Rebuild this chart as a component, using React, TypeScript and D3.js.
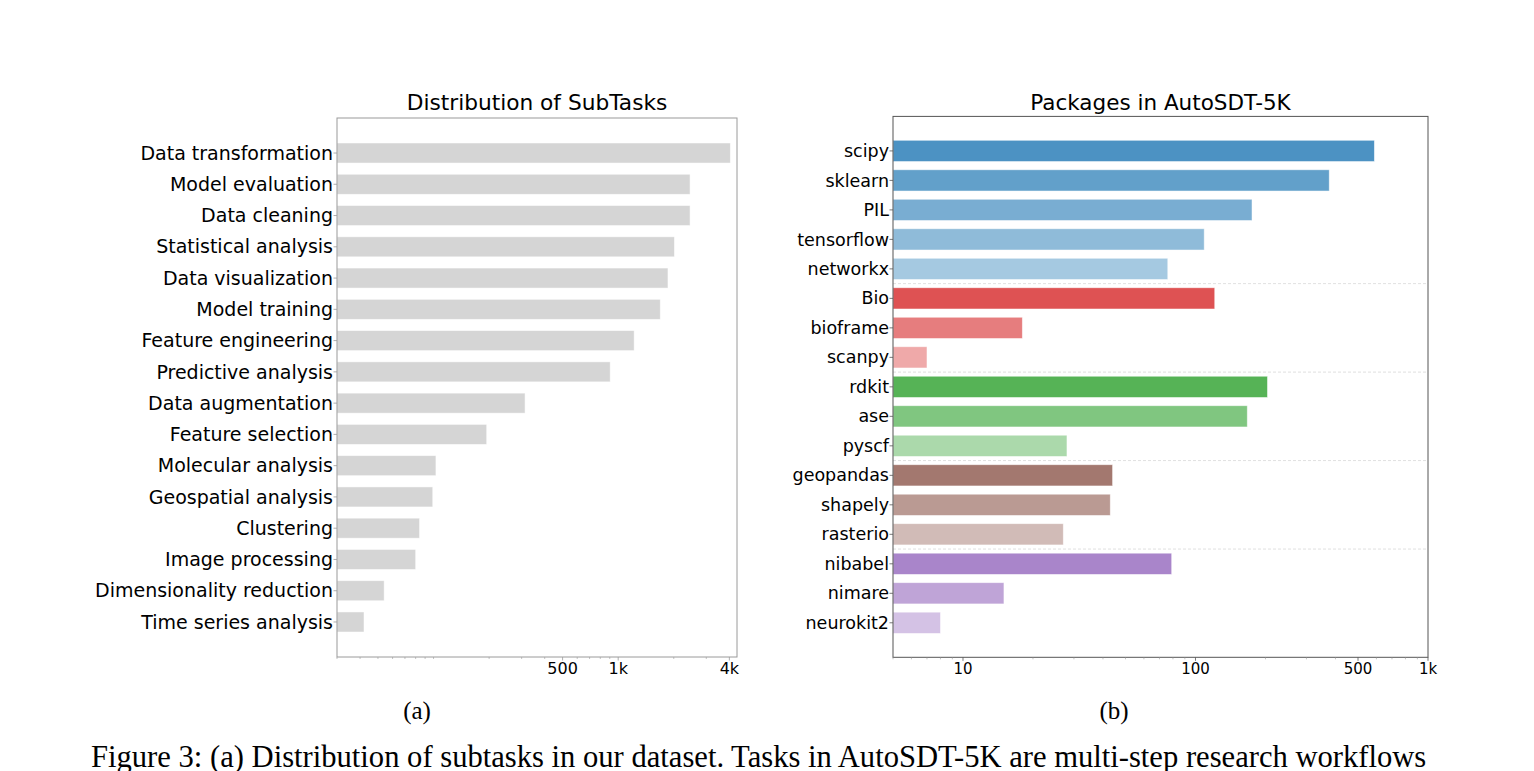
import * as d3 from "d3";

// subtask frequencies (log x axis)
const subtaskNames = [
  "Data transformation",
  "Model evaluation",
  "Data cleaning",
  "Statistical analysis",
  "Data visualization",
  "Model training",
  "Feature engineering",
  "Predictive analysis",
  "Data augmentation",
  "Feature selection",
  "Molecular analysis",
  "Geospatial analysis",
  "Clustering",
  "Image processing",
  "Dimensionality reduction",
  "Time series analysis",
];
const subtaskCounts = [4050, 2450, 2450, 2015, 1860, 1690, 1220, 905, 313, 194, 103, 99, 84, 80, 54, 42];
const subtaskTicks = [500, 1000, 4000];
const subtaskTickLabels = ["500", "1k", "4k"];

// package usage, grouped by domain
const packageNames = [
  "scipy", "sklearn", "PIL", "tensorflow", "networkx",
  "Bio", "bioframe", "scanpy",
  "rdkit", "ase", "pyscf",
  "geopandas", "shapely", "rasterio",
  "nibabel", "nimare", "neurokit2",
];
const packageCounts = [588, 376, 175, 109, 76, 121, 18, 7, 204, 167, 28, 44, 43, 27, 79, 15, 8];
const groupSizes = [5, 3, 3, 3, 3];
const groupColors = ["#1f77b4", "#d62728", "#2ca02c", "#8c564b", "#9467bd"];
const packageTicks = [10, 100, 500, 1000];
const packageTickLabels = ["10", "100", "500", "1k"];

const FONT = "DejaVu Sans, sans-serif";
const SERIF = "Liberation Serif, serif";

function minorTicks(lo: number, hi: number, majors: number[]) {
  const out: number[] = [];
  for (let p = Math.floor(Math.log10(lo)); p <= Math.ceil(Math.log10(hi)); p++) {
    for (let k = 1; k < 10; k++) {
      const v = k * Math.pow(10, p);
      if (v >= lo && v <= hi && !majors.includes(v)) out.push(v);
    }
  }
  return out;
}

function SubtaskPanel() {
  const left = 337, right = 737, top = 118, bottom = 657;
  const domain: [number, number] = [30, 4400];
  const x = d3.scaleLog().domain(domain).range([left, right]);
  const y = d3.scaleLinear().domain([-1.12, subtaskNames.length - 1 + 1.12]).range([top, bottom]);
  const bh = (y(1) - y(0)) * 0.64;
  const spine = "#9a9a9a";
  return (
    <g>
      <text x={(left + right) / 2} y={110} textAnchor="middle" fontFamily={FONT} fontSize={21.7}>
        Distribution of SubTasks
      </text>
      {subtaskNames.map((name, i) => (
        <g key={name}>
          <rect
            x={left}
            y={y(i) - bh / 2}
            width={x(subtaskCounts[i]) - left}
            height={bh}
            fill="#d5d5d5"
            stroke="#ffffff"
            strokeOpacity={0.6}
            strokeWidth={0.8}
          />
          <line x1={left - 3.5} x2={left} y1={y(i)} y2={y(i)} stroke={spine} strokeWidth={0.8} />
          <text x={left - 4} y={y(i)} dy="0.35em" textAnchor="end" fontFamily={FONT} fontSize={19}>
            {name}
          </text>
        </g>
      ))}
      <rect x={left} y={top} width={right - left} height={bottom - top} fill="none" stroke={spine} strokeWidth={1} />
      {minorTicks(domain[0], domain[1], subtaskTicks).map((v) => (
        <line key={v} x1={x(v)} x2={x(v)} y1={bottom} y2={bottom + 2} stroke={spine} strokeWidth={0.6} />
      ))}
      {subtaskTicks.map((v, i) => (
        <g key={v}>
          <line x1={x(v)} x2={x(v)} y1={bottom} y2={bottom + 3.5} stroke={spine} strokeWidth={0.8} />
          <text x={x(v)} y={673.5} textAnchor="middle" fontFamily={FONT} fontSize={16}>
            {subtaskTickLabels[i]}
          </text>
        </g>
      ))}
    </g>
  );
}

function PackagePanel() {
  const left = 893, right = 1428, top = 116.4, bottom = 657.3;
  const domain: [number, number] = [5, 1000];
  const x = d3.scaleLog().domain(domain).range([left, right]);
  const y = d3.scaleLinear().domain([-1.17, packageNames.length - 1 + 1.17]).range([top, bottom]);
  const bh = (y(1) - y(0)) * 0.72;
  const spine = "#555555";

  // colour + alpha per bar, fading within each group
  const fills: { color: string; alpha: number }[] = [];
  const separators: number[] = [];
  let idx = 0;
  groupSizes.forEach((n, g) => {
    const alphas = d3.range(n).map((k) => (n === 1 ? 0.8 : 0.8 - (0.4 * k) / (n - 1)));
    alphas.forEach((a) => fills.push({ color: groupColors[g], alpha: a }));
    idx += n;
    if (g < groupSizes.length - 1) separators.push(idx - 0.5);
  });

  return (
    <g>
      <text x={(left + right) / 2} y={110} textAnchor="middle" fontFamily={FONT} fontSize={21.5}>
        Packages in AutoSDT-5K
      </text>
      {separators.map((s) => (
        <line
          key={s}
          x1={left}
          x2={right}
          y1={y(s)}
          y2={y(s)}
          stroke="#d8d8d8"
          strokeWidth={0.8}
          strokeDasharray="3,2"
        />
      ))}
      {packageNames.map((name, i) => (
        <g key={name}>
          <rect
            x={left}
            y={y(i) - bh / 2}
            width={x(packageCounts[i]) - left}
            height={bh}
            fill={fills[i].color}
            fillOpacity={fills[i].alpha}
            stroke="#ffffff"
            strokeOpacity={0.6}
            strokeWidth={0.8}
          />
          <line x1={left - 3.5} x2={left} y1={y(i)} y2={y(i)} stroke={spine} strokeWidth={0.8} />
          <text x={left - 4} y={y(i)} dy="0.35em" textAnchor="end" fontFamily={FONT} fontSize={17.5}>
            {name}
          </text>
        </g>
      ))}
      <rect x={left} y={top} width={right - left} height={bottom - top} fill="none" stroke={spine} strokeWidth={1} />
      {minorTicks(domain[0], domain[1], packageTicks).map((v) => (
        <line key={v} x1={x(v)} x2={x(v)} y1={bottom} y2={bottom + 2} stroke="#999" strokeWidth={0.6} />
      ))}
      {packageTicks.map((v, i) => (
        <g key={v}>
          <line x1={x(v)} x2={x(v)} y1={bottom} y2={bottom + 3.5} stroke={spine} strokeWidth={0.8} />
          <text x={x(v)} y={673.5} textAnchor="middle" fontFamily={FONT} fontSize={15}>
            {packageTickLabels[i]}
          </text>
        </g>
      ))}
    </g>
  );
}

export default function App() {
  return (
    <svg
      width={1534}
      height={771}
      viewBox="0 0 1534 771"
      style={{ position: "absolute", left: 0, top: 0, background: "#ffffff" }}
    >
      <rect width={1534} height={771} fill="#ffffff" />
      <SubtaskPanel />
      <PackagePanel />
      <text x={417} y={719} textAnchor="middle" fontFamily={SERIF} fontSize={25}>
        (a)
      </text>
      <text x={1114} y={719} textAnchor="middle" fontFamily={SERIF} fontSize={25}>
        (b)
      </text>
      <text x={91} y={767} fontFamily={SERIF} fontSize={30.6}>
        Figure 3: (a) Distribution of subtasks in our dataset. Tasks in AutoSDT-5K are multi-step research workflows
      </text>
    </svg>
  );
}
